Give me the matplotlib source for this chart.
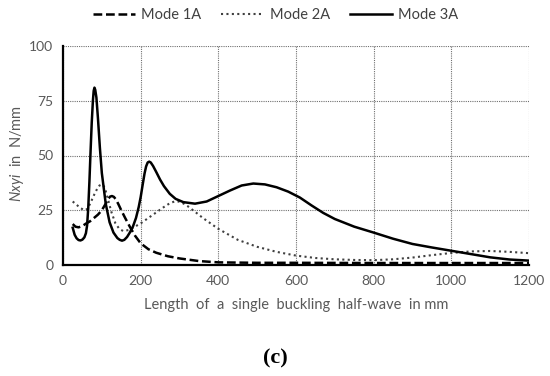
import matplotlib
matplotlib.use("Agg")
import matplotlib.pyplot as plt

# Mode 1A (dashed)
x1 = [25, 32, 40, 50, 60, 70, 80, 90, 100, 110, 116, 121, 126, 131, 136, 142, 150, 160, 172, 185, 200, 220, 240, 270, 300, 350, 400, 500, 600, 800, 1000, 1200]
y1 = [18.7, 17.5, 17.2, 17.8, 19, 20, 21.5, 23, 25, 28, 30, 31.2, 31.5, 31.1, 30, 28, 25, 21.5, 17.5, 13.5, 9.9, 7.2, 5.6, 4, 3, 1.8, 1.2, 1, 1, 0.9, 0.9, 0.9]

# Mode 2A (dotted)
x2 = [25, 35, 45, 55, 62, 70, 80, 88, 94, 100, 105, 110, 115, 125, 135, 145, 155, 170, 185, 200, 220, 240, 260, 275, 287, 297, 307, 320, 340, 360, 400, 450, 500, 550, 600, 650, 700, 750, 800, 850, 900, 950, 1000, 1050, 1100, 1150, 1200]
y2 = [29, 27.5, 26, 25, 25.5, 28, 32, 34.8, 36.3, 36.8, 36, 33.8, 30.5, 24, 19, 16.5, 15.5, 16, 17.5, 19, 21.5, 24, 26.5, 28.2, 29, 29, 28.4, 27, 24.3, 21.5, 16.5, 11.5, 8.3, 6, 4.3, 3.2, 2.6, 2.3, 2.2, 2.6, 3.4, 4.5, 5.5, 6.2, 6.4, 6, 5.4]

# Mode 3A (solid)
x3 = [25, 30, 35, 40, 45, 50, 55, 59, 62, 65, 68, 71, 74, 77, 79, 81, 83, 86, 90, 95, 100, 110, 120, 130, 140, 146, 152, 158, 165, 172, 180, 188, 195, 200, 205, 210, 214, 218, 222, 226, 232, 240, 250, 260, 275, 290, 310, 340, 370, 400, 430, 460, 490, 520, 550, 580, 610, 640, 670, 700, 750, 800, 850, 900, 950, 1000, 1050, 1100, 1150, 1200]
y3 = [17, 13.8, 12.2, 11.4, 11.2, 11.6, 12.6, 14.5, 18, 26, 38, 52, 65, 75, 79.5, 81, 80, 76.5, 67, 53.5, 42, 28, 19.5, 14.8, 12.3, 11.5, 11.1, 11.5, 12.8, 14.8, 17.5, 21.5, 26.5, 31, 36.5, 41.8, 45, 46.8, 47.2, 46.8, 45.2, 42.5, 39, 36, 32.5, 30.2, 28.7, 28, 29, 31.5, 34, 36.3, 37.2, 36.8, 35.5, 33.5, 30.8, 27.2, 23.8, 21, 17.5, 14.8, 12, 9.6, 8, 6.5, 5, 3.5, 2.5, 2]

xticks = [0, 200, 400, 600, 800, 1000, 1200]
yticks = [0, 25, 50, 75, 100]

plt.rcParams['font.family'] = ['Lato', 'DejaVu Sans']
plt.rcParams['mathtext.fontset'] = 'custom'
plt.rcParams['mathtext.it'] = 'Lato:italic'
plt.rcParams['mathtext.rm'] = 'Lato'

fig = plt.figure(figsize=(5.5, 3.76), dpi=100)
ax = fig.add_axes([63/550, 1-265/376, (529-63)/550, (265-46)/376])

l1, = ax.plot(x1, y1, color='black', lw=1.8, linestyle=(0, (3.5, 1.5)), label='Mode 1A')
l2, = ax.plot(x2, y2, color='#404040', lw=1.5, linestyle=(0, (1, 1.6)), label='Mode 2A')
l3, = ax.plot(x3, y3, color='black', lw=1.8, label='Mode 3A')

ax.set_xlim(0, 1200)
ax.set_ylim(0, 100)
ax.set_xticks(xticks)
ax.set_yticks(yticks)
ax.grid(True, linestyle=(0, (1, 1)), color='#707070', lw=0.8)
ax.set_axisbelow(True)
for s in ['top', 'right']:
    ax.spines[s].set_visible(False)
for s in ['left', 'bottom']:
    ax.spines[s].set_linewidth(1.6)
    ax.spines[s].set_color('black')
ax.tick_params(length=0, labelsize=10, labelcolor='#595959', pad=7)

ax.set_xlabel('Length  of  a  single  buckling  half-wave  in mm', fontsize=10.5, color='#595959', labelpad=8)
fig.text(17/550, 1-153/376, r'$\mathit{Nxyi}$  in  N/mm', rotation=90, fontsize=10.5, color='#595959',
         ha='center', va='center')

fig.legend(handles=[l1, l2, l3], loc='center', bbox_to_anchor=(0.501, 1-15/376), ncol=3,
           frameon=False, fontsize=10.5, handlelength=2.9, columnspacing=1.4, handletextpad=0.4,
           labelcolor='#404040')

fig.text(0.5, 1-358/376, '(c)', fontsize=16, fontweight='bold', family='Liberation Serif',
         ha='center', va='center')

fig.savefig('out.png', dpi=100)
